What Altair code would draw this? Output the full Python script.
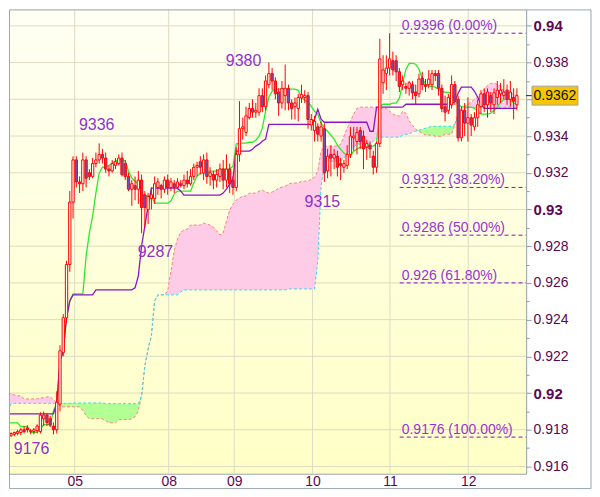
import altair as alt
import pandas as pd

# ---------------- data (prices in pips, 0.9362 -> 9362) ----------------
OPEN = [
    9178, 9177, 9177.5, 9178, 9178.5, 9180, 9181, 9179, 9179, 9179.5,
    9179, 9186, 9188, 9186, 9182, 9180, 9194, 9222, 9241, 9270,
    9304, 9327, 9315, 9314, 9327, 9320, 9318, 9325, 9327, 9330,
    9328, 9322, 9321, 9324, 9325, 9328, 9325, 9318, 9311, 9313,
    9311, 9316, 9308, 9300, 9306, 9306, 9312, 9313, 9311, 9316,
    9312, 9314, 9312, 9314, 9313, 9316, 9314, 9318, 9323, 9326,
    9320, 9327, 9318, 9319, 9316, 9318, 9322, 9316, 9322, 9316,
    9312, 9330, 9344, 9342, 9350, 9355, 9353, 9353, 9362, 9356,
    9368, 9374, 9370, 9364, 9358, 9362, 9366, 9358, 9356, 9355,
    9360.7, 9361, 9362, 9346, 9343, 9345, 9340, 9344, 9321, 9330,
    9328, 9329, 9325, 9323, 9324, 9330, 9339, 9337, 9343, 9340,
    9334, 9335, 9329, 9323, 9336, 9369, 9374, 9377, 9381, 9381,
    9375, 9368, 9367, 9366, 9368, 9364, 9363, 9371.6, 9368, 9368,
    9368, 9374, 9374, 9366, 9356, 9354, 9357, 9368, 9360, 9339,
    9354, 9347, 9350, 9345, 9350, 9356, 9363, 9357, 9362, 9357,
    9361, 9363, 9362, 9365, 9360, 9361, 9357,
]
HIGH = [
    9179, 9178.5, 9179, 9180, 9181, 9182, 9182.5, 9180.5, 9181, 9183,
    9189.5, 9190, 9189, 9187.5, 9184, 9201, 9226, 9243, 9272, 9310,
    9329, 9329, 9318, 9331, 9329, 9322, 9328, 9331, 9336, 9333,
    9331, 9324, 9327, 9328, 9330, 9331, 9327, 9320, 9316, 9318,
    9321, 9319, 9310, 9309, 9312, 9318, 9317, 9314, 9318, 9319,
    9317, 9316, 9317, 9316, 9319, 9321, 9322, 9325, 9326, 9329,
    9330, 9331, 9323, 9321, 9322, 9325, 9327, 9330, 9325, 9318,
    9334, 9359, 9350, 9356, 9358, 9360, 9358, 9366, 9366, 9373,
    9380, 9377, 9372, 9366, 9370, 9379, 9368, 9360, 9361, 9363,
    9368, 9365, 9364, 9352, 9351, 9347, 9348, 9347, 9333, 9335,
    9333, 9332, 9328, 9327, 9335, 9345, 9345, 9345, 9345, 9343,
    9338, 9337, 9332, 9337, 9393, 9384, 9384, 9396, 9386, 9384,
    9377, 9373, 9369, 9370, 9370, 9368, 9374, 9375, 9371, 9376,
    9376, 9376, 9376, 9368, 9362, 9363, 9373, 9370, 9362, 9356,
    9358, 9361, 9352, 9353, 9360, 9365, 9366, 9366, 9364, 9366,
    9370, 9369, 9371, 9368, 9370, 9366, 9366,
]
LOW = [
    9177, 9176, 9176.5, 9177, 9177, 9178, 9178.5, 9177.5, 9177.5, 9178,
    9178, 9182, 9182, 9181.5, 9177.5, 9178, 9190, 9220, 9238, 9266,
    9295, 9312, 9309, 9310, 9312, 9316, 9317, 9323, 9325, 9325,
    9320, 9318, 9320, 9322, 9324, 9318, 9316, 9310, 9302, 9305,
    9303, 9287, 9290, 9292, 9300, 9303, 9308, 9306, 9309, 9308,
    9310, 9309, 9311, 9312, 9311, 9312, 9313, 9316, 9318, 9319,
    9316, 9314, 9313, 9311, 9312, 9315, 9311, 9312, 9309, 9308,
    9310, 9326, 9338, 9340, 9349, 9350, 9350, 9351, 9353, 9354,
    9366, 9365, 9360, 9351, 9355, 9354, 9354, 9349, 9349, 9348,
    9358, 9358, 9344, 9343, 9337, 9337, 9337, 9315, 9317, 9318,
    9322, 9318, 9316, 9320, 9322, 9328, 9332, 9330, 9333, 9322,
    9327, 9328, 9319, 9320, 9334, 9363, 9365, 9373, 9373, 9370,
    9364, 9365, 9363, 9362, 9360, 9357, 9361, 9365, 9364, 9366,
    9365, 9370, 9362, 9353, 9348, 9352, 9355, 9357, 9337, 9337,
    9340, 9337, 9340, 9343, 9345, 9352, 9353, 9350, 9353, 9352,
    9357, 9358, 9360, 9357, 9356, 9349, 9354,
]
CLOSE = [
    9178.5, 9178, 9178.5, 9179, 9180, 9179, 9180, 9179.5, 9180, 9182,
    9188, 9188, 9184, 9182.5, 9180, 9195, 9223, 9241, 9270, 9304,
    9327, 9315, 9314, 9327, 9317, 9318, 9325, 9327, 9330, 9328,
    9322, 9321, 9325, 9326, 9328, 9319, 9318, 9311, 9314, 9311,
    9316, 9301, 9301, 9307, 9308, 9314, 9315, 9311, 9316, 9312,
    9315, 9312, 9315, 9313, 9316, 9314, 9318, 9323, 9324, 9323,
    9327, 9318, 9320, 9316, 9319, 9322, 9316, 9322, 9314, 9312,
    9330, 9344, 9345, 9351, 9355, 9353, 9354, 9362, 9356, 9370,
    9374, 9370, 9363, 9358, 9366, 9366, 9358, 9355, 9358, 9361,
    9362.6, 9362, 9349, 9349, 9348, 9341, 9345, 9320, 9329, 9328,
    9330, 9323, 9324, 9325, 9330, 9340, 9340, 9342, 9337, 9333,
    9336, 9333, 9323, 9336, 9382, 9376, 9377, 9382, 9376, 9375,
    9367, 9370, 9366, 9369, 9363.5, 9362, 9371, 9368, 9367, 9371,
    9374, 9373, 9366, 9355, 9353, 9361, 9368, 9359, 9339, 9354,
    9347, 9350, 9346, 9350, 9357, 9363, 9357, 9364, 9358, 9363.5,
    9365, 9365, 9364, 9360, 9364, 9359, 9362,
]
TENKAN = [
    9183.8, 9183.8, 9183.8, 9183.8, 9181.7, 9181.7, 9181.7, 9178.6, 9178.6, 9178.6,
    9180.6, 9182.8, 9182.8, 9182.8, 9190.4, 9194.2, 9217.6, 9223.0, 9241.0, 9250.2,
    9254.0, 9254.0, 9254.0, 9254.0, 9274.6, 9287.2, 9296.4, 9309.0, 9319.8, 9323.0,
    9323.0, 9324.1, 9325.2, 9326.3, 9327.1, 9327.1, 9326.3, 9320.9, 9317.1, 9315.4,
    9313.8, 9308.4, 9307.3, 9307.3, 9307.3, 9303.5, 9303.5, 9303.5, 9303.5, 9303.5,
    9304.6, 9308.4, 9310.0, 9310.0, 9310.0, 9310.0, 9310.0, 9314.4, 9318.2, 9319.8,
    9319.8, 9319.8, 9320.9, 9320.9, 9320.9, 9322.0, 9322.0, 9322.0, 9322.0, 9323.6,
    9335.6, 9336.1, 9336.1, 9336.1, 9336.6, 9336.6, 9337.7, 9339.9, 9344.3, 9353.5,
    9361.1, 9364.4, 9365.5, 9365.5, 9365.5, 9365.5, 9365.5, 9365.5, 9365.5, 9364.9,
    9361.1, 9359.5, 9358.4, 9356.2, 9353.5, 9351.9, 9347.0, 9344.3, 9342.6, 9340.5,
    9338.3, 9335.0, 9332.8, 9330.7, 9329.6, 9329.0, 9331.8, 9332.8, 9333.9, 9333.9,
    9333.9, 9334.5, 9334.5, 9335.6, 9356.2, 9357.3, 9357.3, 9357.3, 9357.9, 9357.9,
    9360.6, 9368.7, 9376.4, 9379.6, 9379.6, 9379.1, 9376.4, 9371.5, 9368.2, 9367.1,
    9367.1, 9366.6, 9365.5, 9364.4, 9363.8, 9363.8, 9363.3, 9360.0, 9356.8, 9356.2,
    9355.7, 9355.7, 9355.7, 9355.1, 9353.5, 9351.9, 9351.9, 9351.9, 9352.4, 9354.0,
    9355.7, 9358.4, 9360.0, 9360.0, 9360.0, 9357.9, 9357.3,
]
KIJUN = [
    9188.7, 9188.7, 9188.7, 9188.7, 9188.7, 9188.7, 9188.7, 9188.7, 9188.7, 9188.7,
    9188.7, 9188.7, 9188.7, 9188.7, 9188.7, 9194.2, 9217.6, 9223.0, 9241.0, 9250.2,
    9253.5, 9253.5, 9253.5, 9253.5, 9253.5, 9253.5, 9253.5, 9256.2, 9256.2, 9256.2,
    9256.2, 9256.2, 9256.2, 9256.2, 9256.2, 9256.2, 9256.2, 9256.2, 9256.2, 9257.3,
    9263.8, 9280.1, 9291.0, 9301.9, 9311.6, 9311.6, 9311.6, 9311.6, 9311.6, 9311.6,
    9311.6, 9311.6, 9311.6, 9310.0, 9307.8, 9307.8, 9307.8, 9307.8, 9307.8, 9307.8,
    9307.8, 9307.8, 9307.8, 9307.8, 9307.8, 9307.8, 9308.9, 9311.1, 9313.8, 9317.1,
    9331.8, 9331.8, 9331.8, 9331.8, 9331.8, 9332.8, 9334.5, 9335.6, 9337.2, 9338.3,
    9346.4, 9346.4, 9346.4, 9346.4, 9346.4, 9346.4, 9346.4, 9346.4, 9346.4, 9346.4,
    9346.4, 9346.4, 9346.4, 9346.4, 9349.2, 9354.6, 9349.2, 9347.5, 9347.5, 9347.5,
    9347.5, 9347.5, 9347.5, 9347.5, 9347.5, 9347.5, 9347.5, 9347.5, 9347.5, 9347.5,
    9347.5, 9342.6, 9342.6, 9355.7, 9355.7, 9355.7, 9355.7, 9355.7, 9355.7, 9355.7,
    9355.7, 9355.7, 9357.3, 9357.3, 9357.3, 9357.3, 9357.3, 9357.3, 9357.3, 9357.3,
    9357.3, 9357.3, 9357.3, 9357.3, 9357.3, 9357.3, 9357.3, 9359.0, 9363.3, 9366.6,
    9366.6, 9366.6, 9366.6, 9364.4, 9361.1, 9357.3, 9355.1, 9355.1, 9355.1, 9355.1,
    9355.1, 9355.1, 9355.1, 9355.1, 9355.1, 9355.1, 9355.1,
]
SPAN_A = [
    9200.2, 9199.6, 9199.0, 9198.5, 9198.5, 9196.8, 9196.8, 9196.8, 9196.8, 9196.8,
    9197.4, 9197.4, 9197.9, 9197.9, 9196.3, 9194.7, 9193.0, 9192.5, 9192.5, 9192.5,
    9192.5, 9192.5, 9192.5, 9190.4, 9187.7, 9186.0, 9186.0, 9186.0, 9186.0, 9186.0,
    9184.9, 9183.8, 9183.8, 9183.8, 9185.5, 9185.5, 9185.5, 9185.5, 9186.0, 9187.1,
    9190.4, 9198.5, 9214.8, 9224.0, 9231.2, 9250.2, 9253.5, 9253.5, 9253.5, 9255.7,
    9266.5, 9277.4, 9283.9, 9287.7, 9288.8, 9289.3, 9291.5, 9291.5, 9291.5, 9291.5,
    9292.6, 9292.0, 9291.5, 9290.4, 9288.3, 9286.1, 9287.2, 9293.7, 9299.7, 9302.9,
    9305.1, 9306.2, 9307.3, 9307.3, 9308.9, 9308.9, 9308.9, 9310.0, 9310.5, 9309.5,
    9308.9, 9309.5, 9310.5, 9311.6, 9312.2, 9312.7, 9313.8, 9314.4, 9314.4, 9314.4,
    9315.4, 9315.4, 9315.4, 9316.5, 9317.6, 9320.9, 9331.8, 9334.5, 9334.5, 9334.5,
    9334.5, 9334.5, 9335.6, 9339.9, 9344.3, 9348.1, 9351.9, 9355.1, 9355.7, 9355.7,
    9355.7, 9355.7, 9355.7, 9355.7, 9355.7, 9355.1, 9355.1, 9353.5, 9351.9, 9351.3,
    9350.8, 9353.5, 9352.4, 9348.1, 9345.9, 9343.7, 9342.6, 9341.5, 9340.5, 9340.5,
    9340.5, 9339.9, 9339.9, 9339.9, 9341.0, 9341.0, 9341.0, 9346.4, 9352.4, 9355.1,
    9356.2, 9357.3, 9358.4, 9360.0, 9361.1, 9363.3, 9365.5, 9367.6, 9368.7, 9368.7,
    9368.2, 9367.1, 9364.4, 9363.8, 9363.3, 9362.7, 9362.2,
]
SPAN_B = [
    9190.4, 9194.2, 9194.4, 9194.4, 9194.4, 9194.4, 9194.4, 9194.4, 9194.4, 9194.4,
    9194.4, 9194.4, 9194.4, 9194.4, 9194.4, 9194.4, 9194.4, 9194.4, 9194.4, 9194.4,
    9194.6, 9194.6, 9194.6, 9194.6, 9194.6, 9194.6, 9194.6, 9194.6, 9194.6, 9194.6,
    9194.2, 9194.2, 9194.2, 9194.2, 9194.2, 9194.2, 9194.2, 9194.2, 9194.2, 9194.2,
    9194.2, 9198.5, 9214.8, 9224.0, 9231.2, 9250.2, 9253.5, 9253.5, 9253.5, 9253.5,
    9253.5, 9253.5, 9253.5, 9255.1, 9256.2, 9256.2, 9256.2, 9256.2, 9256.2, 9256.2,
    9256.2, 9256.2, 9256.2, 9256.2, 9256.2, 9256.2, 9256.2, 9256.2, 9256.2, 9256.2,
    9256.2, 9256.2, 9256.2, 9256.2, 9256.2, 9256.2, 9256.2, 9256.2, 9256.2, 9256.2,
    9256.2, 9256.2, 9256.2, 9256.2, 9256.2, 9256.2, 9256.7, 9256.7, 9256.7, 9256.7,
    9256.7, 9256.7, 9256.7, 9256.7, 9256.7, 9272.0, 9312.7, 9323.6, 9329.0, 9326.3,
    9326.3, 9326.3, 9326.3, 9328.0, 9330.7, 9332.3, 9333.9, 9335.6, 9335.6, 9335.6,
    9335.6, 9335.6, 9337.2, 9338.3, 9339.4, 9339.4, 9339.4, 9339.4, 9339.4, 9339.4,
    9339.4, 9340.5, 9341.0, 9341.0, 9342.1, 9342.6, 9343.2, 9343.7, 9344.3, 9344.8,
    9345.3, 9345.3, 9345.3, 9345.3, 9345.3, 9345.3, 9345.3, 9346.4, 9350.8, 9353.5,
    9354.6, 9355.7, 9355.7, 9355.7, 9355.7, 9355.7, 9355.7, 9355.7, 9355.7, 9355.7,
    9355.7, 9355.7, 9355.7, 9355.7, 9355.7, 9355.7, 9355.7,
]

DAY_POS = [21.0, 49.8, 69.9, 93.9, 117.6, 141.6]
DAY_LABELS = ["05", "08", "09", "10", "11", "12"]

Y_TICKS = [0.915, 0.916, 0.917, 0.918, 0.919, 0.920, 0.921, 0.922, 0.923, 0.924,
           0.925, 0.926, 0.927, 0.928, 0.929, 0.930, 0.931, 0.932, 0.933, 0.934,
           0.935, 0.936, 0.937, 0.938, 0.939, 0.940, 0.941]
Y_MAJOR = [0.916, 0.918, 0.920, 0.922, 0.924, 0.926, 0.928, 0.930, 0.932,
           0.934, 0.936, 0.938, 0.940]

FIB_LEVELS = [0.9396, 0.9312, 0.9286, 0.926, 0.9176]
FIB_TEXT = ["0.9396 (0.00%)", "0.9312 (38.20%)", "0.9286 (50.00%)",
            "0.926 (61.80%)", "0.9176 (100.00%)"]
FIB_START = 120.6

SWING_TEXT = ["9380", "9336", "9287", "9315", "9176"]
SWING_X = [72.75, 27.75, 45.75, 96.9, 7.8]
SWING_Y = [0.93807, 0.93459, 0.92768, 0.93040, 0.91697]

LAST_PRICE = 0.9362
LAST_TEXT = "0.9362"

n = len(OPEN)
for arr in (HIGH, LOW, CLOSE, TENKAN, KIJUN, SPAN_A, SPAN_B):
    assert len(arr) == n, len(arr)

# ---------------- layout & style ----------------
W, H = 518, 465
XS = alt.Scale(domain=[2.4, 157.8], nice=False, zero=False)
YS = alt.Scale(domain=[0.915612, 0.940897], nice=False, zero=False)

AX = "#8f9ca6"
GRID = "#dcdcc4"
LBL = "#5e0650"
RED = "#ff0000"
BEAR = "#7352b0"
BULL = "#fffff2"
PINK = "#ffcce8"
GREENF = "#b2ff94"
TENK = "#2ee82e"
KIJ = "#8c14c8"
FIBC = "#8a10c8"
FIBT = "#9a32d8"
SWC = "#9030d0"

MAJ = "abs(datum.value * 500 - round(datum.value * 500)) < 0.01"
BIG = "abs(datum.value * 100 - round(datum.value * 100)) < 0.01"
FREE = f"abs(datum.value - {LAST_PRICE}) > 0.0008"
Y_AXIS = alt.Axis(
    orient="right", values=Y_TICKS, title=None, grid=False,
    labelExpr=f"(({MAJ}) && ({FREE})) ? format(datum.value, '.3~f') : ''",
    tickSize={"condition": {"test": MAJ, "value": 5}, "value": 3},
    labelFontWeight={"condition": {"test": BIG, "value": "bold"}, "value": "normal"},
    labelFontSize={"condition": {"test": BIG, "value": 15}, "value": 14},
    labelColor=LBL, tickColor=AX, domainColor=AX, labelPadding=2,
    labelOverlap=False, labelFlush=False,
)
xexpr = " : ".join(
    f"abs(datum.value - {p}) < 0.05 ? '{t}'" for p, t in zip(DAY_POS, DAY_LABELS)
) + " : ''"
X_AXIS = alt.Axis(
    values=DAY_POS, labelExpr=xexpr, title=None, grid=False, ticks=False,
    domainColor=AX, labelColor=LBL, labelFontSize=14, labelPadding=1,
    labelFlush=False, labelOverlap=False,
)

df = pd.DataFrame({
    "x": [i + 0.5 for i in range(n)],
    "o": [v / 10000 for v in OPEN],
    "h": [v / 10000 for v in HIGH],
    "l": [v / 10000 for v in LOW],
    "c": [v / 10000 for v in CLOSE],
    "tk": [v / 10000 for v in TENKAN],
    "kj": [v / 10000 for v in KIJUN],
    "a": [v / 10000 for v in SPAN_A],
    "b": [v / 10000 for v in SPAN_B],
})
df["top"] = df[["o", "c"]].max(axis=1)
df["bot"] = df[["o", "c"]].min(axis=1)
df["fillc"] = [BEAR if c < o else BULL for o, c in zip(df["o"], df["c"])]
df["lo"] = df[["a", "b"]].min(axis=1)

X = alt.X("x:Q", scale=XS, axis=X_AXIS)


def Y(field):
    return alt.Y(f"{field}:Q", scale=YS, axis=Y_AXIS)


base = alt.Chart(df)

bg = alt.Chart(pd.DataFrame({"k": [0]})).mark_rect(
    color=alt.LinearGradient(
        gradient="linear",
        stops=[alt.GradientStop(color="#fffff4", offset=0),
               alt.GradientStop(color="#ffffc6", offset=1)],
        x1=0, x2=0, y1=0, y2=1,
    )
).encode(x=alt.value(0), x2=alt.value(W), y=alt.value(0), y2=alt.value(H))

hgrid = alt.Chart(pd.DataFrame({"v": Y_MAJOR})).mark_rule(
    color=GRID, strokeWidth=1).encode(y=alt.Y("v:Q", scale=YS, axis=Y_AXIS))
vgrid = alt.Chart(pd.DataFrame({"d": DAY_POS})).mark_rule(
    color=GRID, strokeWidth=1).encode(x=alt.X("d:Q", scale=XS, axis=X_AXIS))

pink = base.mark_area(color=PINK, opacity=1, clip=True).encode(x=X, y=Y("a"), y2="lo:Q")
green = base.mark_area(color=GREENF, opacity=1, clip=True).encode(x=X, y=Y("b"), y2="lo:Q")
line_a = base.mark_line(color="#ff7f7f", strokeWidth=1, strokeDash=[3, 2], clip=True).encode(x=X, y=Y("a"))
line_b = base.mark_line(color="#33dcec", strokeWidth=1, strokeDash=[3, 2], clip=True).encode(x=X, y=Y("b"))
tenkan = base.mark_line(color=TENK, strokeWidth=1.3, clip=True).encode(x=X, y=Y("tk"))
kijun = base.mark_line(color=KIJ, strokeWidth=1.3, clip=True).encode(x=X, y=Y("kj"))

wick = base.mark_rule(color=RED, strokeWidth=1, clip=True).encode(x=X, y=Y("l"), y2="h:Q")
body = base.mark_bar(size=2.3, stroke=RED, strokeWidth=1, opacity=1, clip=True).encode(
    x=X, y=Y("top"), y2="bot:Q", fill=alt.Fill("fillc:N", scale=None))

fib_df = pd.DataFrame({"lvl": FIB_LEVELS, "txt": FIB_TEXT, "x0": [FIB_START] * len(FIB_LEVELS)})
fib_rule = alt.Chart(fib_df).mark_rule(color=FIBC, strokeWidth=1, strokeDash=[4, 3]).encode(
    x=alt.X("x0:Q", scale=XS, axis=X_AXIS), x2=alt.value(W), y=Y("lvl"))
fib_text = alt.Chart(fib_df).mark_text(
    align="left", baseline="alphabetic", dx=2, dy=-3, fontSize=14, color=FIBT
).encode(x=alt.X("x0:Q", scale=XS, axis=X_AXIS), y=Y("lvl"), text="txt:N")

sw_df = pd.DataFrame({"sx": SWING_X, "sy": SWING_Y, "st": SWING_TEXT})
swing = alt.Chart(sw_df).mark_text(
    align="center", baseline="middle", fontSize=16, color=SWC
).encode(x=alt.X("sx:Q", scale=XS, axis=X_AXIS), y=Y("sy"), text="st:N")

pr_df = pd.DataFrame({"p": [LAST_PRICE], "t": [LAST_TEXT]})
p_tick = alt.Chart(pr_df).mark_rule(color="#5a003c", strokeWidth=1).encode(
    x=alt.value(W), x2=alt.value(W + 6), y=Y("p"))
p_box = alt.Chart(pr_df).mark_point(
    shape="M-1,-0.413L1,-0.413L1,0.413L-1,0.413Z", size=2116, filled=True,
    fill="#f7c600", stroke="#9aa2aa", strokeWidth=1, opacity=1
).encode(x=alt.value(546.9), y=Y("p"))
p_text = alt.Chart(pr_df).mark_text(
    align="center", baseline="middle", fontSize=14, color="#141414"
).encode(x=alt.value(546.9), y=Y("p"), text="t:N")

frame = alt.Chart(pd.DataFrame({"k": [0]})).mark_rect(
    fillOpacity=0, stroke="#9aa8b0", strokeWidth=1
).encode(x=alt.value(0.5), x2=alt.value(583), y=alt.value(0.5), y2=alt.value(480))

chart = alt.layer(
    bg, hgrid, vgrid, pink, green, line_a, line_b, tenkan, kijun,
    wick, body, fib_rule, fib_text, swing, p_tick, p_box, p_text, frame
).properties(width=W, height=H, padding=0).configure_view(stroke=None).configure(
    font="Liberation Sans", background="white")

chart.save("out.html", embed_options={"renderer": "svg", "actions": False})
